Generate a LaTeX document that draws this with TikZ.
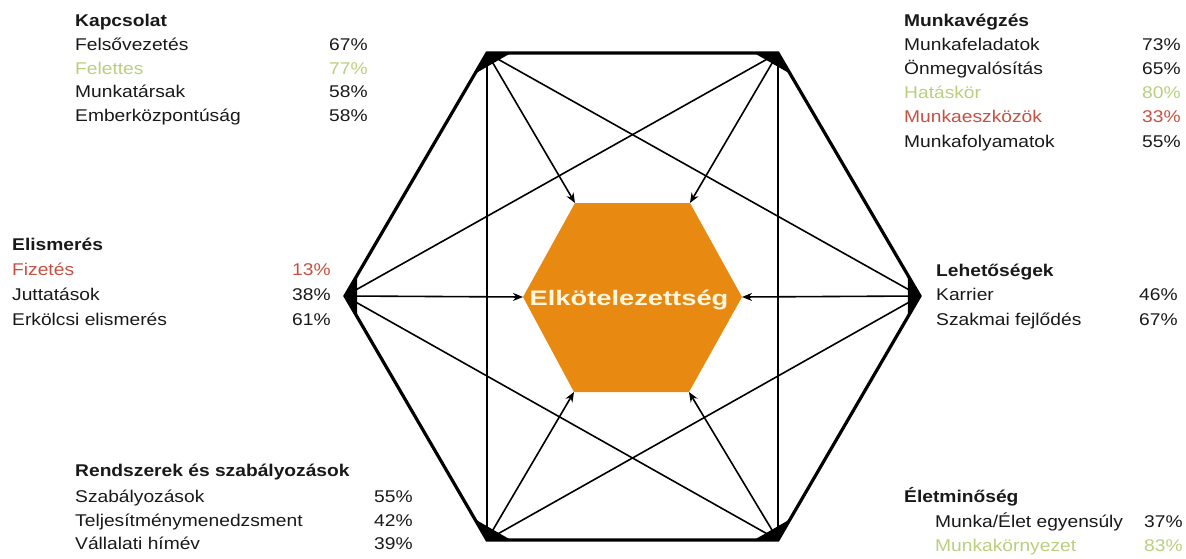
\documentclass[tikz,border=0pt]{standalone}
\usepackage{fontspec}
\setmainfont{Liberation Sans}[FakeStretch=1.13]
\newfontfamily\centerfont{Liberation Sans}[FakeStretch=1.3]
\usetikzlibrary{arrows.meta,calc}
\definecolor{txt}{RGB}{25,25,25}
\definecolor{goodgreen}{RGB}{185,207,125}
\definecolor{badred}{RGB}{198,80,65}
\definecolor{hexorange}{RGB}{232,138,18}
\definecolor{cream}{RGB}{255,246,222}
\tikzset{
  lbl/.style={anchor=base west, inner sep=0pt, text=txt, font=\fontsize{17}{20}\selectfont},
  ttl/.style={lbl, font=\fontsize{17}{20}\selectfont\bfseries},
  good/.style={text=goodgreen},
  bad/.style={text=badred},
  thickedge/.style={line width=3.2pt, line join=miter},
  thinline/.style={line width=1.6pt},
  arr/.style={line width=1.6pt, -{Stealth[length=10pt,width=8pt]}},
}
\newcommand{\vblob}[3]{\fill ($(#1)$) -- ($(#1)!24pt!(#2)$) -- ($(#1)!24pt!(#3)$) -- cycle;}
\begin{document}
\begin{tikzpicture}[x=1pt,y=-1pt]
\useasboundingbox (0,0) rectangle (1186,559);
% outer vertices
\coordinate (TL) at (487,53);
\coordinate (TR) at (778,53);
\coordinate (R) at (920,296);
\coordinate (BR) at (778,540);
\coordinate (BL) at (487,540);
\coordinate (L) at (345,296);
% inner hexagon corners
\coordinate (iTL) at (575,203);
\coordinate (iTR) at (690,203);
\coordinate (iR) at (742,297);
\coordinate (iBR) at (689,392);
\coordinate (iBL) at (574,392);
\coordinate (iL) at (523,297);
\fill[hexorange] (iTL) -- (iTR) -- (iR) -- (iBR) -- (iBL) -- (iL) -- cycle;
\node[inner sep=0pt, anchor=base, text=cream, font=\centerfont\fontsize{21}{24}\selectfont\bfseries] (center) at (629,305) {Elkötelezettség};
% thin lines
\draw[thinline] (TL) -- (BL);
\draw[thinline] (TR) -- (BR);
\draw[thinline] (TL) -- (R);
\draw[thinline] (TR) -- (L);
\draw[thinline] (BL) -- (R);
\draw[thinline] (BR) -- (L);
% arrows to center
\draw[arr] (TL) -- (iTL);
\draw[arr] (TR) -- (iTR);
\draw[arr] (R) -- (iR);
\draw[arr] (BR) -- (iBR);
\draw[arr] (BL) -- (iBL);
\draw[arr] (L) -- (iL);
% outer hexagon
\draw[thickedge] (TL) -- (TR) -- (R) -- (BR) -- (BL) -- (L) -- cycle;
\vblob{TL}{TR}{L}
\vblob{TR}{R}{TL}
\vblob{R}{BR}{TR}
\vblob{BR}{BL}{R}
\vblob{BL}{L}{BR}
\vblob{L}{TL}{BL}
% Kapcsolat
\node[ttl] (k0) at (75,27) {Kapcsolat};
\node[lbl] (k1) at (75,51) {Felsővezetés};
\node[lbl] (k1p) at (329,51) {67\%};
\node[lbl,good] (k2) at (75,75) {Felettes};
\node[lbl,good] (k2p) at (329,75) {77\%};
\node[lbl] (k3) at (75,98) {Munkatársak};
\node[lbl] (k3p) at (329,98) {58\%};
\node[lbl] (k4) at (75,122) {Emberközpontúság};
\node[lbl] (k4p) at (329,122) {58\%};
% Munkavégzés
\node[ttl] (m0) at (904,27) {Munkavégzés};
\node[lbl] (m1) at (904,51) {Munkafeladatok};
\node[lbl] (m1p) at (1142,51) {73\%};
\node[lbl] (m2) at (904,75) {Önmegvalósítás};
\node[lbl] (m2p) at (1142,75) {65\%};
\node[lbl,good] (m3) at (904,99) {Hatáskör};
\node[lbl,good] (m3p) at (1142,99) {80\%};
\node[lbl,bad] (m4) at (904,123) {Munkaeszközök};
\node[lbl,bad] (m4p) at (1142,123) {33\%};
\node[lbl] (m5) at (904,147) {Munkafolyamatok};
\node[lbl] (m5p) at (1142,147) {55\%};
% Elismerés
\node[ttl] (e0) at (12,250) {Elismerés};
\node[lbl,bad] (e1) at (12,275) {Fizetés};
\node[lbl,bad] (e1p) at (292,275) {13\%};
\node[lbl] (e2) at (12,300) {Juttatások};
\node[lbl] (e2p) at (292,300) {38\%};
\node[lbl] (e3) at (12,325) {Erkölcsi elismerés};
\node[lbl] (e3p) at (292,325) {61\%};
% Lehetőségek
\node[ttl] (l0) at (936,276) {Lehetőségek};
\node[lbl] (l1) at (936,300) {Karrier};
\node[lbl] (l1p) at (1139,300) {46\%};
\node[lbl] (l2) at (936,325) {Szakmai fejlődés};
\node[lbl] (l2p) at (1139,325) {67\%};
% Rendszerek
\node[ttl] (r0) at (75,476) {Rendszerek és szabályozások};
\node[lbl] (r1) at (75,502) {Szabályozások};
\node[lbl] (r1p) at (374,502) {55\%};
\node[lbl] (r2) at (75,526) {Teljesítménymenedzsment};
\node[lbl] (r2p) at (374,526) {42\%};
\node[lbl] (r3) at (75,549) {Vállalati hímév};
\node[lbl] (r3p) at (374,549) {39\%};
% Életminőség
\node[ttl] (q0) at (904,502) {Életminőség};
\node[lbl] (q1) at (935,527) {Munka/Élet egyensúly};
\node[lbl] (q1p) at (1144,527) {37\%};
\node[lbl,good] (q2) at (935,551) {Munkakörnyezet};
\node[lbl,good] (q2p) at (1144,551) {83\%};
\end{tikzpicture}
\end{document}
